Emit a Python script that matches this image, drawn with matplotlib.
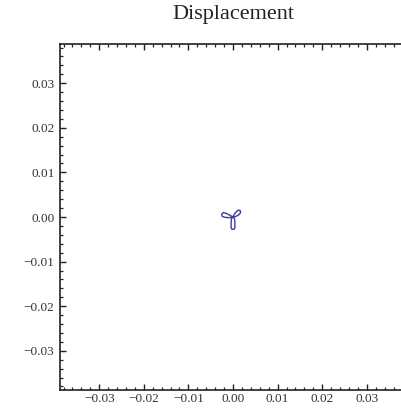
import matplotlib
matplotlib.use("Agg")
import matplotlib.pyplot as plt
import matplotlib.ticker as ticker

title = "Displacement"
axis_limit = 0.0388
major_ticks = [-0.03, -0.02, -0.01, 0.0, 0.01, 0.02, 0.03]

# trajectory (units of 1e-3)
left_x = [0.0, -0.8, -1.6, -2.2, -2.55, -2.4, -1.6, -0.8, 0.0]
left_y = [0.0, 0.45, 0.85, 1.0, 0.6, 0.1, -0.1, -0.15, 0.0]
down_x = [0.0, -0.35, -0.42, -0.42, -0.25, 0.25, 0.42, 0.42, 0.35, 0.0]
down_y = [0.0, -0.4, -1.2, -2.4, -2.75, -2.75, -2.4, -1.2, -0.4, 0.0]
right_x = [0.0, 0.7, 1.3, 1.7, 1.6, 1.2, 0.7, 0.25, 0.0]
right_y = [0.0, 0.15, 0.5, 0.95, 1.45, 1.55, 1.15, 0.55, 0.0]

W, H = 402, 409
fig = plt.figure(figsize=(W / 100, H / 100), dpi=100)
fig.patch.set_facecolor("white")

# frame is 346 px square, its right edge runs past the picture
ax = fig.add_axes([60 / W, 19 / H, 346 / W, 346 / H])

xs = [v * 1e-3 for v in left_x + down_x[1:] + right_x[1:]]
ys = [v * 1e-3 for v in left_y + down_y[1:] + right_y[1:]]
ax.plot(xs, ys, color=(0.24, 0.24, 0.6), lw=1.0, solid_joinstyle="round")

ax.set_xlim(-axis_limit, axis_limit)
ax.set_ylim(-axis_limit, axis_limit)

serif = ["Liberation Serif", "DejaVu Serif"]
ax.xaxis.set_major_locator(ticker.FixedLocator(major_ticks))
ax.yaxis.set_major_locator(ticker.FixedLocator(major_ticks))
ax.xaxis.set_minor_locator(ticker.MultipleLocator(0.002))
ax.yaxis.set_minor_locator(ticker.MultipleLocator(0.002))
fmt = ticker.FuncFormatter(lambda v, p: f"{v:.2f}".replace("-", "\u2212") if abs(v) > 1e-9 else "0.00")
ax.xaxis.set_major_formatter(fmt)
ax.yaxis.set_major_formatter(fmt)

ax.tick_params(which="both", direction="in", top=True, right=False, colors="#222222")
ax.tick_params(which="major", length=4.5, width=1.0, pad=4, labelsize=9.5, labelcolor="#333333")
ax.tick_params(axis="x", which="major", pad=2.5)
ax.tick_params(which="minor", length=2.5, width=0.9)
for lab in ax.get_xticklabels() + ax.get_yticklabels():
    lab.set_family(serif)

for sp in ax.spines.values():
    sp.set_linewidth(1.2)
    sp.set_color("#222222")

fig.text(233 / W, 1 - 15 / H, title, ha="center", va="center", fontsize=16,
         family=serif, color="#222222")

fig.savefig("out.png", dpi=100)
